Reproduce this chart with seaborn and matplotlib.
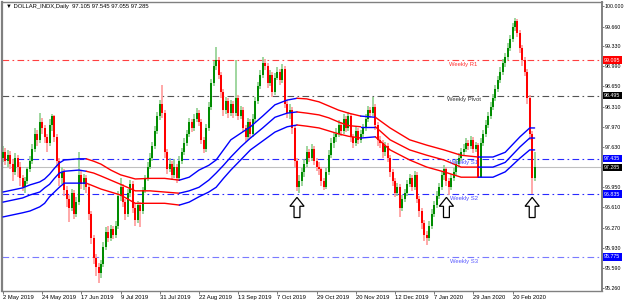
import matplotlib
matplotlib.use("Agg")
import matplotlib.pyplot as plt
from matplotlib.patches import Polygon
import pandas as pd
import seaborn as sns

# ---------------- data ----------------
opens = [97.45, 97.55, 97.40, 97.50, 97.35, 97.20, 97.45, 97.30, 97.10, 96.95,
         97.05, 97.25, 97.40, 97.60, 97.85, 97.75, 98.05, 97.95, 97.80, 97.70,
         98.00, 98.15, 97.80, 97.40, 97.10, 97.20, 96.90, 96.75, 96.60, 96.85,
         96.50, 96.70, 97.15, 97.00, 97.10, 96.95, 96.50, 96.10, 95.75, 95.60,
         95.50, 95.65, 95.95, 96.20, 96.10, 96.25, 96.15, 96.30, 96.80, 96.95,
         96.70, 96.50, 96.85, 97.00, 96.60, 96.40, 96.65, 96.55, 96.90, 97.10,
         97.30, 97.45, 97.65, 97.90, 98.15, 98.35, 98.20, 97.55, 97.25, 97.35,
         97.15, 97.30, 97.10, 97.40, 97.55, 97.70, 97.85, 98.05, 97.95, 98.10,
         98.20, 98.05, 97.75, 97.60, 97.95, 98.30, 98.70, 99.00, 99.10, 98.85,
         98.55, 98.25, 98.40, 98.20, 98.35, 98.20, 98.45, 98.15, 98.25, 97.95,
         97.80, 98.05, 97.85, 98.10, 98.40, 98.65, 98.85, 99.05, 99.00, 98.70,
         98.85, 98.55, 98.80, 98.90, 98.75, 98.95, 98.35, 98.20, 98.25, 97.95,
         97.40, 96.95, 97.05, 97.20, 97.35, 97.55, 97.45, 97.60, 97.40, 97.30,
         97.25, 97.05, 96.95, 97.20, 97.50, 97.70, 97.80, 97.85, 98.00, 97.90,
         98.10, 97.95, 98.15, 97.80, 97.70, 97.90, 97.75, 97.85, 97.95, 98.10,
         98.25, 98.20, 98.30, 98.00, 97.75, 97.70, 97.55, 97.65, 97.45, 97.20,
         97.05, 96.85, 96.95, 96.60, 96.75, 96.85, 97.00, 97.10, 96.95, 97.15,
         96.75, 96.55, 96.35, 96.15, 96.10, 96.30, 96.50, 96.65, 96.80, 96.95,
         97.15, 97.25, 97.05, 96.95, 97.10, 97.20, 97.35, 97.45, 97.55, 97.60,
         97.70, 97.65, 97.75, 97.60, 97.66, 97.13, 97.70, 97.85, 98.00, 98.15,
         98.30, 98.45, 98.60, 98.75, 98.90, 99.05, 99.15, 99.30, 99.45, 99.65,
         99.75, 99.55, 99.30, 99.10, 98.90, 98.45, 97.85, 97.105]

highs = [97.65, 97.62, 97.58, 97.56, 97.42, 97.52, 97.50, 97.38, 97.15, 97.12,
         97.30, 97.48, 97.68, 97.95, 97.92, 98.20, 98.12, 98.00, 97.85, 98.10,
         98.18, 98.16, 97.85, 97.45, 97.30, 97.25, 96.98, 96.82, 96.92, 96.90,
         96.78, 97.54, 97.22, 97.18, 97.15, 97.00, 96.55, 96.15, 95.82, 95.68,
         95.72, 96.02, 96.28, 96.30, 96.32, 96.30, 96.38, 96.88, 97.10, 97.00,
         96.75, 96.92, 97.08, 97.05, 96.68, 96.72, 96.70, 96.95, 97.15, 97.38,
         97.52, 97.72, 97.98, 98.22, 98.42, 98.67, 98.25, 97.60, 97.45, 97.40,
         97.42, 97.35, 97.48, 97.62, 97.78, 97.92, 98.12, 98.10, 98.18, 98.28,
         98.25, 98.10, 97.80, 98.02, 98.38, 98.78, 99.08, 99.31, 99.15, 98.90,
         98.60, 98.48, 98.45, 98.42, 98.40, 99.10, 98.50, 98.32, 98.30, 98.00,
         98.12, 98.10, 98.18, 98.48, 98.72, 98.92, 99.15, 99.12, 99.05, 98.92,
         98.90, 98.88, 98.98, 98.95, 99.02, 99.00, 98.42, 98.35, 98.30, 98.00,
         97.45, 97.15, 97.28, 97.42, 97.65, 97.60, 97.68, 97.65, 97.45, 97.38,
         97.30, 97.10, 97.28, 97.58, 97.78, 97.88, 97.95, 98.08, 98.05, 98.18,
         98.15, 98.22, 98.18, 97.85, 97.98, 97.95, 97.92, 98.02, 98.18, 98.32,
         98.30, 98.47, 98.35, 98.05, 97.82, 97.75, 97.72, 97.70, 97.50, 97.25,
         97.10, 97.02, 97.00, 96.82, 96.92, 97.08, 97.18, 97.15, 97.22, 97.20,
         96.80, 96.60, 96.40, 96.22, 96.38, 96.58, 96.72, 96.88, 97.02, 97.22,
         97.32, 97.30, 97.10, 97.18, 97.28, 97.42, 97.52, 97.62, 97.68, 97.78,
         97.75, 97.82, 97.80, 97.72, 97.70, 97.78, 97.92, 98.08, 98.22, 98.38,
         98.52, 98.68, 98.82, 98.98, 99.12, 99.22, 99.38, 99.52, 99.72, 99.80,
         99.78, 99.60, 99.35, 99.15, 98.95, 98.50, 97.90, 97.545]

lows = [97.38, 97.32, 97.30, 97.25, 97.05, 97.15, 97.12, 96.98, 96.88, 96.85,
        97.00, 97.20, 97.35, 97.55, 97.65, 97.70, 97.85, 97.70, 97.55, 97.65,
        97.90, 97.72, 97.30, 96.98, 97.00, 96.80, 96.62, 96.36, 96.55, 96.42,
        96.45, 96.65, 96.92, 96.90, 96.85, 96.40, 96.00, 95.65, 95.45, 95.33,
        95.42, 95.60, 95.90, 96.02, 96.05, 96.08, 96.10, 96.25, 96.72, 96.62,
        96.40, 96.45, 96.78, 96.52, 96.30, 96.35, 96.28, 96.50, 96.85, 97.05,
        97.25, 97.40, 97.60, 97.85, 98.08, 98.12, 97.45, 97.18, 97.20, 97.08,
        97.10, 97.02, 97.05, 97.35, 97.50, 97.65, 97.80, 97.88, 97.90, 98.05,
        97.98, 97.68, 97.52, 97.55, 97.90, 98.25, 98.65, 98.92, 98.78, 98.45,
        98.15, 98.18, 98.12, 98.15, 98.12, 98.15, 98.08, 98.10, 97.88, 97.72,
        97.75, 97.78, 97.80, 98.05, 98.35, 98.60, 98.80, 98.92, 98.62, 98.65,
        98.48, 98.50, 98.75, 98.68, 98.70, 98.28, 98.12, 98.10, 97.85, 97.30,
        96.88, 96.85, 96.98, 97.12, 97.30, 97.38, 97.40, 97.32, 97.22, 97.15,
        96.98, 96.90, 96.92, 97.15, 97.45, 97.62, 97.72, 97.80, 97.82, 97.85,
        97.88, 97.90, 97.72, 97.62, 97.65, 97.68, 97.70, 97.80, 97.90, 98.05,
        98.12, 98.15, 97.92, 97.65, 97.62, 97.45, 97.48, 97.38, 97.12, 96.98,
        96.78, 96.80, 96.45, 96.55, 96.70, 96.80, 96.95, 96.88, 96.90, 96.68,
        96.45, 96.25, 96.05, 95.98, 96.05, 96.25, 96.45, 96.60, 96.75, 96.90,
        97.08, 96.98, 96.82, 96.90, 97.05, 97.15, 97.30, 97.40, 97.48, 97.55,
        97.58, 97.60, 97.52, 97.55, 97.10, 97.10, 97.65, 97.80, 97.95, 98.10,
        98.25, 98.40, 98.55, 98.70, 98.85, 98.98, 99.10, 99.25, 99.40, 99.58,
        99.48, 99.22, 99.00, 98.82, 98.35, 97.75, 96.83, 97.055]

closes = [97.55, 97.40, 97.50, 97.35, 97.20, 97.45, 97.30, 97.10, 96.95, 97.05,
          97.25, 97.40, 97.60, 97.85, 97.75, 98.05, 97.95, 97.80, 97.70, 98.00,
          98.15, 97.80, 97.40, 97.10, 97.20, 96.90, 96.75, 96.60, 96.85, 96.50,
          96.70, 97.15, 97.00, 97.10, 96.95, 96.50, 96.10, 95.75, 95.60, 95.50,
          95.65, 95.95, 96.20, 96.10, 96.25, 96.15, 96.30, 96.80, 96.95, 96.70,
          96.50, 96.85, 97.00, 96.60, 96.40, 96.65, 96.55, 96.90, 97.10, 97.30,
          97.45, 97.65, 97.90, 98.15, 98.35, 98.20, 97.55, 97.25, 97.35, 97.15,
          97.30, 97.10, 97.40, 97.55, 97.70, 97.85, 98.05, 97.95, 98.10, 98.20,
          98.05, 97.75, 97.60, 97.95, 98.30, 98.70, 99.00, 99.10, 98.85, 98.55,
          98.25, 98.40, 98.20, 98.35, 98.20, 98.45, 98.15, 98.25, 97.95, 97.80,
          98.05, 97.85, 98.10, 98.40, 98.65, 98.85, 99.05, 99.00, 98.70, 98.85,
          98.55, 98.80, 98.90, 98.75, 98.95, 98.35, 98.20, 98.25, 97.95, 97.40,
          96.95, 97.05, 97.20, 97.35, 97.55, 97.45, 97.60, 97.40, 97.30, 97.25,
          97.05, 96.95, 97.20, 97.50, 97.70, 97.80, 97.85, 98.00, 97.90, 98.10,
          97.95, 98.15, 97.80, 97.70, 97.90, 97.75, 97.85, 97.95, 98.10, 98.25,
          98.20, 98.30, 98.00, 97.75, 97.70, 97.55, 97.65, 97.45, 97.20, 97.05,
          96.85, 96.95, 96.60, 96.75, 96.85, 97.00, 97.10, 96.95, 97.15, 96.75,
          96.55, 96.35, 96.15, 96.10, 96.30, 96.50, 96.65, 96.80, 96.95, 97.15,
          97.25, 97.05, 96.95, 97.10, 97.20, 97.35, 97.45, 97.55, 97.60, 97.70,
          97.65, 97.75, 97.60, 97.66, 97.13, 97.70, 97.85, 98.00, 98.15, 98.30,
          98.45, 98.60, 98.75, 98.90, 99.05, 99.15, 99.30, 99.45, 99.65, 99.75,
          99.55, 99.30, 99.10, 98.90, 98.45, 97.85, 97.10, 97.285]

# envelope indicator, read at these bar indices
band_idx = [0, 8, 11, 15, 17, 19, 21, 23, 25, 31,
            34, 37, 40, 44, 48, 54, 60, 66,
            72, 76, 80, 84, 87, 90, 93, 97, 101, 106, 111, 116,
            120, 124, 129, 133, 137, 141,
            146,
            152, 158, 166, 173, 180, 187,
            194, 200, 205, 211, 215, 217]
band_upper = [96.87, 96.94, 96.99, 97.04, 97.09, 97.17, 97.27, 97.36, 97.41, 97.43,
              97.43, 97.39, 97.34, 97.24, 97.16, 97.09, 97.10, 97.10,
              97.07, 97.12, 97.24, 97.32, 97.41, 97.58, 97.75, 97.86, 97.97, 98.15, 98.34, 98.42,
              98.45, 98.44, 98.39, 98.32, 98.25, 98.20,
              98.15,
              98.13, 97.95, 97.75, 97.66, 97.58, 97.49,
              97.46, 97.46, 97.54, 97.80, 97.95, 97.95]
band_mid = [96.70, 96.77, 96.82, 96.87, 96.94, 97.00, 97.10, 97.19, 97.22, 97.24,
            97.22, 97.19, 97.14, 97.07, 97.00, 96.89, 96.89, 96.87,
            96.85, 96.89, 96.95, 97.07, 97.19, 97.32, 97.46, 97.63, 97.78, 97.95, 98.13, 98.20,
            98.22, 98.20, 98.17, 98.12, 98.05, 97.99,
            97.97,
            97.97, 97.75, 97.58, 97.49, 97.41, 97.29,
            97.29, 97.29, 97.37, 97.63, 97.78, 97.78]
band_lower = [96.45, 96.52, 96.55, 96.62, 96.68, 96.79, 96.87, 96.95, 97.02, 97.02,
              97.02, 96.97, 96.92, 96.87, 96.82, 96.68, 96.68, 96.68,
              96.65, 96.70, 96.79, 96.87, 96.95, 97.10, 97.24, 97.41, 97.58, 97.73, 97.88, 97.97,
              98.00, 97.98, 97.95, 97.90, 97.85, 97.81,
              97.78,
              97.80, 97.58, 97.41, 97.29, 97.21, 97.12,
              97.12, 97.12, 97.21, 97.44, 97.58, 97.58]
band_trend = ["up"] * 10 + ["down"] * 8 + ["up"] * 12 + ["down"] * 6 + ["up"] \
    + ["down"] * 6 + ["up"] * 6

date_idx = [0, 16, 32, 48, 64, 80, 96, 112, 128, 144, 160, 176, 192, 208]
date_labels = ["2 May 2019", "24 May 2019", "17 Jun 2019", "9 Jul 2019",
               "31 Jul 2019", "22 Aug 2019", "13 Sep 2019", "7 Oct 2019",
               "29 Oct 2019", "20 Nov 2019", "12 Dec 2019", "7 Jan 2020",
               "29 Jan 2020", "20 Feb 2020"]

price_ticks = [100.000, 99.660, 99.330, 98.990, 98.650, 98.310, 97.970,
               97.630, 96.950, 96.610, 96.270, 95.930, 95.590, 95.260]

pivot_names = ["Weekly R1", "Weekly Pivot", "Weekly S1", "Weekly S2", "Weekly S3"]
pivot_values = [99.095, 98.495, 97.435, 96.835, 95.775]
current_price = 97.285

arrow_idx = [120, 181, 216]
arrow_tip = [96.78, 96.78, 96.78]

title = "\u25bc DOLLAR_INDX,Daily  97.105 97.545 97.055 97.285"

# ---------------- style ----------------
sns.set_theme(style="white")
plt.rcParams["font.family"] = ["Liberation Sans", "DejaVu Sans"]

FS = 4.2
FSY = 3.8
fig = plt.figure(figsize=(6.25, 3.05), dpi=100)
fig.patch.set_facecolor("white")
ax = fig.add_axes([0.0032, 0.0475, 0.96, 0.9475])
ax.set_facecolor("white")

# pivot lines
pivot_line_colors = ["#ff4040", "#555555", "#2a2aff", "#2a2aff", "#7a7aff"]
pivot_text_colors = ["#ff3030", "#333333", "#4a4aff", "#4a4aff", "#5a5aff"]
pivot_box_colors = ["#ff0000", "#000000", "#0000ff", "#0000ff", "#0000ff"]
for name, v, lc, tc in zip(pivot_names, pivot_values, pivot_line_colors, pivot_text_colors):
    ax.axhline(v, color=lc, lw=0.8, ls=(0, (6, 3, 1.5, 3)), zorder=1)
    ax.annotate(name, xy=(188, v), xytext=(0, -1.2), textcoords="offset points",
                ha="center", va="top", fontsize=FS, color=tc, zorder=6)

ax.axhline(current_price, color="#c0c0c0", lw=0.8, zorder=1)

# candles
for i, (o, h, l, c) in enumerate(zip(opens, highs, lows, closes)):
    up = c >= o
    wick = "#8fcf8f" if up else "#ff9a9a"
    body = "#008c00" if up else "#ff0000"
    ax.vlines(i, l, h, color=wick, lw=1.2, zorder=2)
    lo_b, hi_b = (o, c) if up else (c, o)
    if hi_b - lo_b < 0.012:
        hi_b = lo_b + 0.012
    ax.vlines(i, lo_b, hi_b, color=body, lw=1.45, zorder=3)

# envelope bands
band_df = pd.DataFrame({"idx": band_idx, "upper": band_upper, "mid": band_mid,
                        "lower": band_lower, "trend": band_trend})
trend_color = {"up": "#0000ff", "down": "#ff0000"}
start = 0
n = len(band_df)
while start < n - 1:
    end = start
    while end + 1 < n - 1 and band_df.trend[end + 1] == band_df.trend[start]:
        end += 1
    seg = band_df.iloc[start:end + 2]
    col = trend_color[band_df.trend[start]]
    for key in ["upper", "mid", "lower"]:
        sns.lineplot(data=seg, x="idx", y=key, color=col, lw=1.0, ax=ax,
                     zorder=4, legend=False, estimator=None, sort=False)
    start = end + 1
for ln in ax.get_lines():
    ln.set_solid_joinstyle("round")
    ln.set_solid_capstyle("round")

# arrows
for ai, at in zip(arrow_idx, arrow_tip):
    h_tot, h_head = 0.34, 0.15
    hw, sw = 2.9, 1.2
    pts = [(ai, at), (ai + hw, at - h_head), (ai + sw, at - h_head),
           (ai + sw, at - h_tot), (ai - sw, at - h_tot), (ai - sw, at - h_head),
           (ai - hw, at - h_head)]
    ax.add_patch(Polygon(pts, closed=True, fc="white", ec="black", lw=0.9, zorder=7))

# axes
ax.set_xlim(-0.4, 244.5)
ax.set_ylim(95.21, 100.081)
ax.set_xlabel("")
ax.set_ylabel("")
ax.yaxis.tick_right()
ax.set_yticks(price_ticks)
ax.set_yticklabels([f"{t:.3f}" for t in price_ticks])
ax.set_xticks(date_idx)
ax.set_xticklabels(date_labels, ha="left")
ax.tick_params(axis="both", length=2, width=0.6, color="#606060",
               labelcolor="black", direction="out")
ax.tick_params(axis="y", labelsize=FSY, length=1.5, pad=0.6, left=False, right=True)
ax.tick_params(axis="x", labelsize=FS, pad=1.5, bottom=True)
for s in ax.spines.values():
    s.set_color("#808080")
    s.set_linewidth(1.0)
ax.spines["left"].set_linewidth(1.6)
ax.spines["right"].set_linewidth(1.4)

# right side value boxes
box_vals = pivot_values + [current_price]
box_cols = pivot_box_colors + ["#000000"]
for v, bc in zip(box_vals, box_cols):
    ax.annotate(f"{v:.3f}", xy=(1, v), xycoords=("axes fraction", "data"),
                xytext=(1.6, 0), textcoords="offset points", ha="left", va="center",
                fontsize=FSY, color="white", zorder=8, annotation_clip=False,
                bbox=dict(boxstyle="square,pad=0.25", fc=bc, ec="none"))

ax.text(0.006, 0.982, title, transform=ax.transAxes, ha="left", va="center",
        fontsize=FS, color="black", zorder=9)

fig.savefig("out.png", dpi=100, facecolor="white")
